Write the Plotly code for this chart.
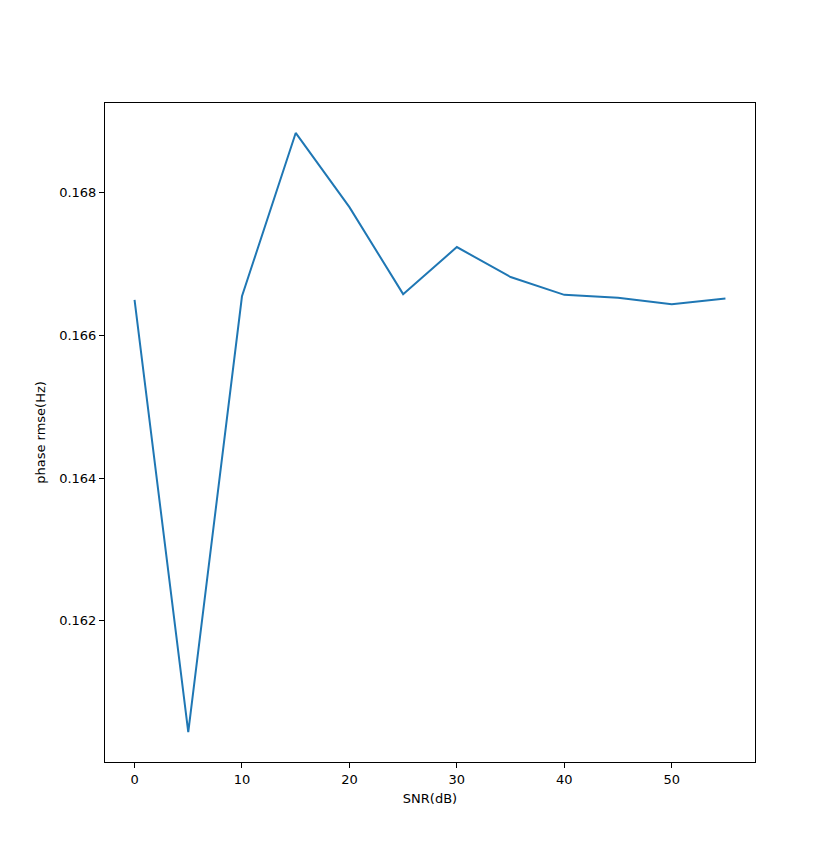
import plotly.graph_objects as go

snr = [0, 5, 10, 15, 20, 25, 30, 35, 40, 45, 50, 55]
rmse = [0.16650, 0.16044, 0.16655, 0.16884, 0.16780, 0.16658, 0.16724, 0.16682,
        0.16657, 0.16653, 0.16644, 0.16652]
x_ticks = [0, 10, 20, 30, 40, 50]
y_ticks = [0.162, 0.164, 0.166, 0.168]

fig = go.Figure(go.Scatter(x=snr, y=rmse, mode="lines",
                           line=dict(color="#1f77b4", width=2)))

xpad = (max(snr) - min(snr)) * 0.05
ypad = (max(rmse) - min(rmse)) * 0.05

axis_common = dict(showline=True, linecolor="black", linewidth=1, mirror=True,
                   ticks="outside", ticklen=5, tickwidth=1, tickcolor="black",
                   showgrid=False, zeroline=False,
                   tickfont=dict(family="DejaVu Sans", size=13, color="black"))

fig.update_layout(
    width=839, height=856,
    margin=dict(l=105, r=84, t=103, b=94),
    paper_bgcolor="white", plot_bgcolor="white",
    showlegend=False,
    font=dict(family="DejaVu Sans", size=13, color="black"),
    xaxis=dict(range=[min(snr) - xpad, max(snr) + xpad], tickvals=x_ticks,
               title=dict(text="SNR(dB)", standoff=8, font=dict(size=13)),
               **axis_common),
    yaxis=dict(range=[min(rmse) - ypad, max(rmse) + ypad], tickvals=y_ticks,
               tickformat=".3f",
               title=dict(text="phase rmse(Hz)", standoff=10, font=dict(size=13)),
               **axis_common),
)

fig.write_html("out.html")
